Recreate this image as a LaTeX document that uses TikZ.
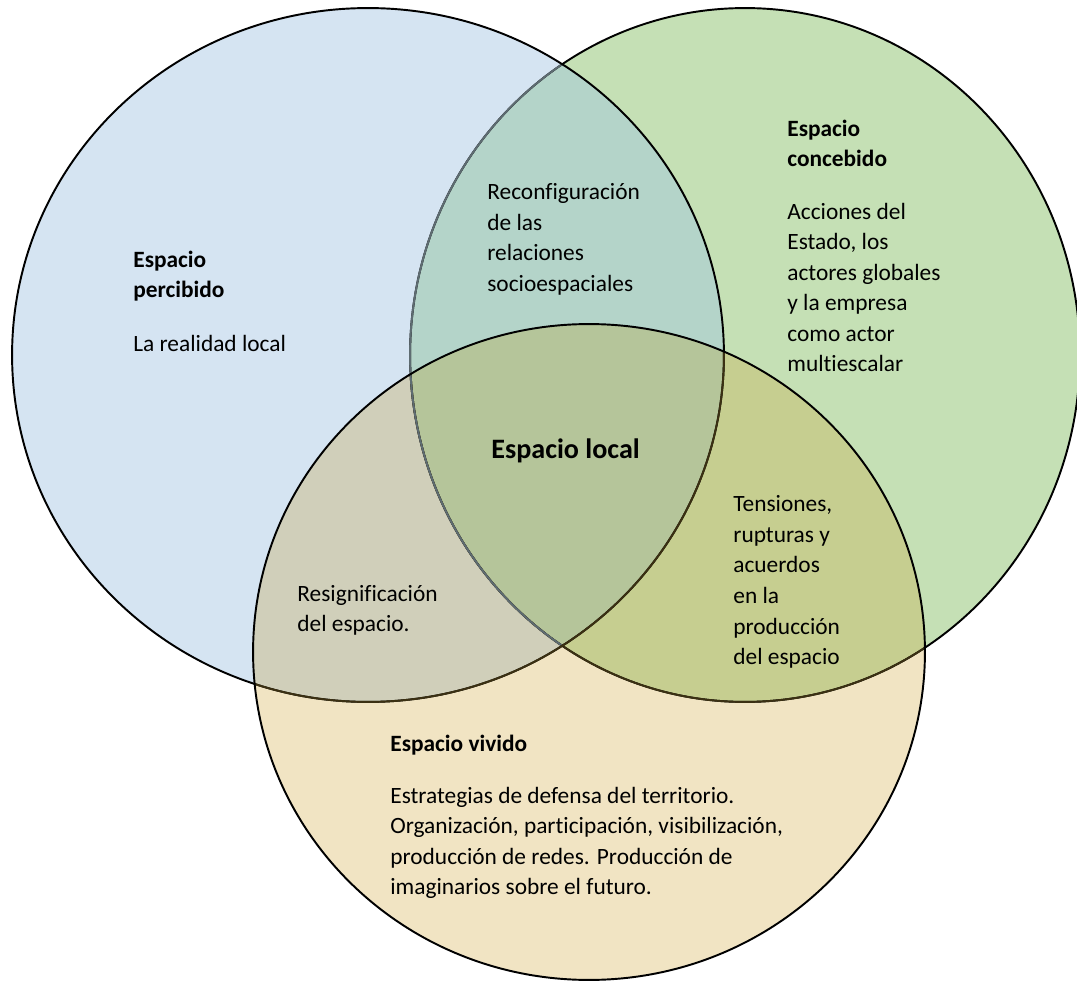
\documentclass[tikz,border=0pt]{standalone}
\usepackage{fontspec}
\setmainfont[Ligatures=CommonOff]{Carlito}
\usetikzlibrary{positioning}

\definecolor{percibido}{HTML}{D5E4F2}
\definecolor{concebido}{HTML}{C5E0B5}
\definecolor{vivido}{HTML}{F1E4C3}
\definecolor{perconc}{HTML}{B4D4C9}
\definecolor{perviv}{HTML}{D0CFBA}
\definecolor{concviv}{HTML}{C6CE90}
\definecolor{local}{HTML}{B5C59A}
\definecolor{underblue}{HTML}{5E6C72}
\definecolor{underyellow}{HTML}{3B3012}

\def\circpercibido{(368,355) ellipse [x radius=7.12cm, y radius=6.94cm]}
\def\circconcebido{(745,355) ellipse [x radius=6.70cm, y radius=6.94cm]}
\def\circvivido{(589,652) ellipse [x radius=6.72cm, y radius=6.56cm]}

\tikzset{
  rim/.style={line width=1.1pt},
  body/.style={anchor=west, align=left, inner sep=0pt, font=\fontsize{13.3}{17.4}\selectfont},
  head/.style={body, font=\fontsize{13.3}{17.4}\selectfont\bfseries},
}

\begin{document}
\begin{tikzpicture}[x=0.02cm, y=-0.02cm]
		%%%%% START %%%%%
		\useasboundingbox (0,0) rectangle (1077,982);
		\clip (0,0) rectangle (1077,982);

		% single areas
		\fill[percibido] \circpercibido;
		\fill[concebido] \circconcebido;
		\fill[vivido] \circvivido;

		% overlaps
		\begin{scope}
			\clip \circpercibido;
			\fill[perconc] \circconcebido;
			\fill[perviv] \circvivido;
		\end{scope}
		\begin{scope}
			\clip \circconcebido;
			\fill[concviv] \circvivido;
		\end{scope}
		\begin{scope}
			\clip \circpercibido;
			\clip \circconcebido;
			\fill[local] \circvivido;
		\end{scope}

		% rims
		\draw[rim] \circconcebido;
		\begin{scope}
			\clip \circvivido;
			\draw[rim, underyellow] \circconcebido;
		\end{scope}
		\begin{scope}
			\clip \circpercibido;
			\draw[rim, underblue] \circconcebido;
		\end{scope}
		\draw[rim] \circpercibido;
		\begin{scope}
			\clip \circvivido;
			\draw[rim, underyellow] \circpercibido;
		\end{scope}
		\draw[rim] \circvivido;

		% texts
		\node[head] (percTitle) at (133,276) {Espacio\\percibido};
		\node[body] (percText) at (133,343) {La realidad local};

		\node[head] (concTitle) at (787,143.5) {Espacio\\concebido};
		\node[body] (concText) at (787,287.5) {Acciones del\\Estado, los\\actores globales\\y la empresa\\como actor\\multiescalar};

		\node[body] (reconf) at (487,239.5) {Reconfiguración\\de las\\relaciones\\socioespaciales};

		\node[anchor=west, inner sep=0pt, font=\fontsize{16}{19}\selectfont\bfseries] (local) at (491,451) {Espacio local};

		\node[body] (tension) at (733,582) {Tensiones,\\rupturas y\\acuerdos\\en la\\producción\\del espacio};

		\node[body] (resig) at (297,610.5) {Resignificación\\del espacio.};

		\node[head] (vivTitle) at (390,745) {Espacio vivido};
		\node[body] (vivText) at (390,843) {Estrategias de defensa del territorio.\\Organización, participación, visibilización,\\producción de redes. Producción de\\imaginarios sobre el futuro.};
		%%%%% END %%%%%
\end{tikzpicture}
\end{document}
